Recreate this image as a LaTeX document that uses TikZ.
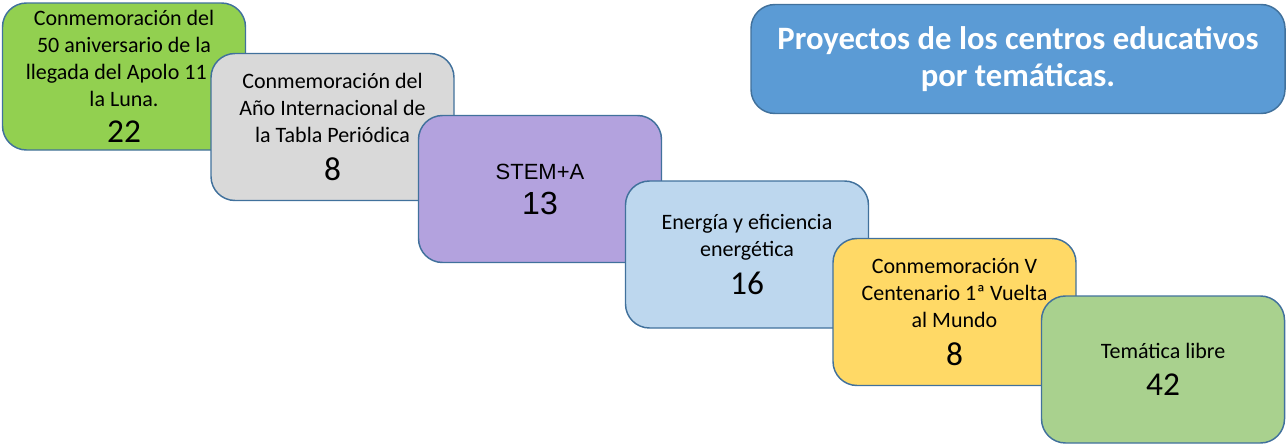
\documentclass[tikz,border=0pt]{standalone}
\usepackage{fontspec}
\setmainfont{Carlito}
\newfontfamily\arialfont{Liberation Sans}
\usetikzlibrary{positioning}
\definecolor{borde}{HTML}{41719C}
\definecolor{verde}{HTML}{92D050}
\definecolor{gris}{HTML}{D9D9D9}
\definecolor{lila}{HTML}{B3A2DE}
\definecolor{celeste}{HTML}{BDD7EE}
\definecolor{amarillo}{HTML}{FFD966}
\definecolor{verdeclaro}{HTML}{A9D18E}
\definecolor{azul}{HTML}{5B9BD5}
\tikzset{tema/.style={draw=borde,line width=1.1pt,rounded corners=18pt,minimum width=182.25pt,minimum height=110.25pt,inner sep=0pt,align=center,font=\fontsize{16.5}{20.25}\selectfont}}
\tikzset{titulo/.style={tema,fill=azul,minimum width=400.5pt,minimum height=81.75pt,text=white,font=\fontsize{24.5}{27.75}\selectfont\bfseries}}
\newcommand{\cifra}[1]{{\fontsize{25}{28}\selectfont #1}}

\begin{document}
\begin{tikzpicture}[x=0.75pt,y=-0.75pt]
  \useasboundingbox (0,0) rectangle (1288,446);
  \node[tema,fill=verde] (luna) at (124,76.5) {Conmemoración del\\50 aniversario de la\\llegada del Apolo 11 a\\la Luna.\\[7pt]\cifra{22}};
  \node[tema,fill=gris] (tabla) at (332.5,127) {Conmemoración del\\Año Internacional de\\la Tabla Periódica\\[8pt]\cifra{8}};
  \node[tema,fill=lila,font=\arialfont\fontsize{16.5}{20.25}\selectfont] (stem) at (540,189) {STEM+A\\[6pt]{\fontsize{24}{28}\selectfont 13}};
  \node[tema,fill=celeste] (energia) at (747,254.5) {Energía y eficiencia\\energética\\[8pt]\cifra{16}};
  \node[tema,fill=amarillo] (vuelta) at (954.5,312) {Conmemoración V\\Centenario 1ª Vuelta\\al Mundo\\[8pt]\cifra{8}};
  \node[tema,fill=verdeclaro] (libre) at (1163,369.5) {Temática libre\\[8pt]\cifra{42}};
  \node[titulo] (proyectos) at (1018,59) {Proyectos de los centros educativos\\por temáticas.};
\end{tikzpicture}
\end{document}
